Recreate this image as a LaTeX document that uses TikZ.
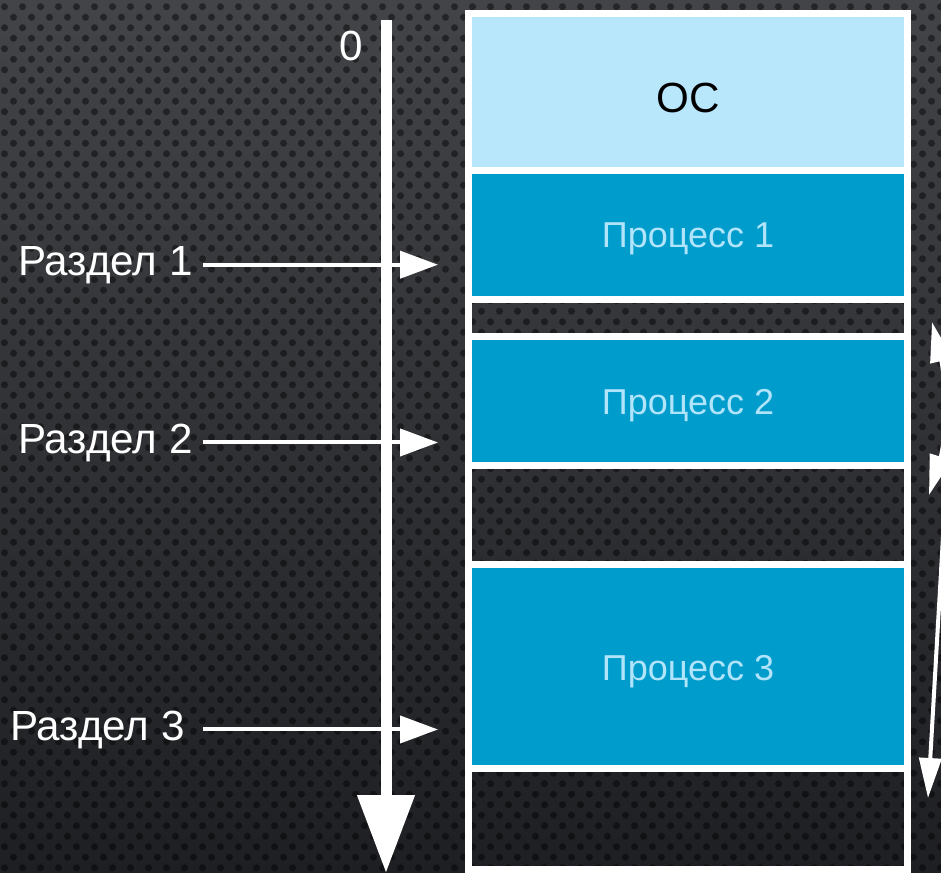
\documentclass[tikz,border=0pt]{standalone}
\usepackage{fontspec}
\setmainfont{Liberation Sans}
\usetikzlibrary{arrows.meta,patterns.meta}
\definecolor{bgtop}{RGB}{66,68,72}
\definecolor{bgbot}{RGB}{30,31,35}
\definecolor{oscolor}{RGB}{184,230,251}
\definecolor{proccolor}{RGB}{0,156,204}
\definecolor{proctext}{RGB}{176,228,250}

\tikzdeclarepattern{
	name=bgdots,
	type=uncolored,
	bounding box={(0cm,0cm) and (0.36cm,0.42cm)},
	tile size={(0.36cm,0.42cm)},
	code={
		\fill (0.09cm,0.105cm) circle[radius=2pt];
		\fill (0.27cm,0.315cm) circle[radius=2pt];
	}
}

\begin{document}
\begin{tikzpicture}[x=0.02cm,y=-0.02cm]
	\tikzstyle{every node}=[font=\fontsize{24}{28}\selectfont, text=white, inner sep=0];
	\tikzstyle{cell}=[draw=white, line width=0.14cm];
	\tikzstyle{proc}=[font=\fontsize{20.5}{24}\selectfont, text=proctext, anchor=base];
	\tikzstyle{sect}=[draw=white, line width=0.08cm, -{Triangle[length=0.76cm,width=0.54cm]}];
	\tikzstyle{span}=[draw=white, line width=0.08cm];
	\useasboundingbox (0,0) rectangle (941,873);
	\clip (0,0) rectangle (941,873);

	% background with dots
	\shade[top color=bgtop, bottom color=bgbot] (0,0) rectangle (941,873);
	\fill[pattern=bgdots, pattern color=black, fill opacity=0.45] (0,0) rectangle (941,873);

	% memory
	\fill[oscolor] (468,13.5) rectangle (907.5,170);
	\fill[proccolor] (468,170) rectangle (907.5,299.5);
	\fill[proccolor] (468,336) rectangle (907.5,465.5);
	\fill[proccolor] (468,564) rectangle (907.5,768);
	\foreach \a/\b in {13.5/170, 170/299.5, 299.5/336, 336/465.5, 465.5/564, 564/768, 768/869.5}
		\draw[cell] (468,\a) rectangle (907.5,\b);

	\node[text=black, anchor=base] (os) at (688,112) {ОС};
	\node[proc] (proc1) at (688,247) {Процесс 1};
	\node[proc] (proc2) at (688,414) {Процесс 2};
	\node[proc] (proc3) at (688,680) {Процесс 3};

	% address axis
	\node[anchor=base] (zero) at (351,60) {0};
	\coordinate (axtop) at (386,20);
	\coordinate (axbot) at (386,873);
	\draw[white, line width=0.22cm, -{Triangle[length=1.56cm,width=1.1cm]}] (axtop) -- (axbot);

	% sections
	\coordinate (mem) at (438,0);
	\node[anchor=base east, inner xsep=0.2cm] (sect1) at (203,275) {Раздел 1};
	\node[anchor=base east, inner xsep=0.2cm] (sect2) at (203,453) {Раздел 2};
	\node[anchor=base east, inner xsep=0.36cm] (sect3) at (203,740) {Раздел 3};
	\draw[sect] (sect1) -- (sect1 -| mem);
	\draw[sect] (sect2) -- (sect2 -| mem);
	\draw[sect] (sect3) -- (sect3 -| mem);

	% spans on the right
	\coordinate (span1a) at (932,322);
	\coordinate (span1b) at (929,495);
	\coordinate (span2a) at (948,450);
	\coordinate (span2b) at (928,798);
	\draw[span, {Triangle[length=0.8cm,width=0.44cm]}-{Triangle[length=0.8cm,width=0.44cm]}]
		(span1a) .. controls (946,380) and (946,440) .. (span1b);
	\draw[span, -{Triangle[length=0.8cm,width=0.44cm]}] (span2a) -- (span2b);
\end{tikzpicture}
\end{document}
